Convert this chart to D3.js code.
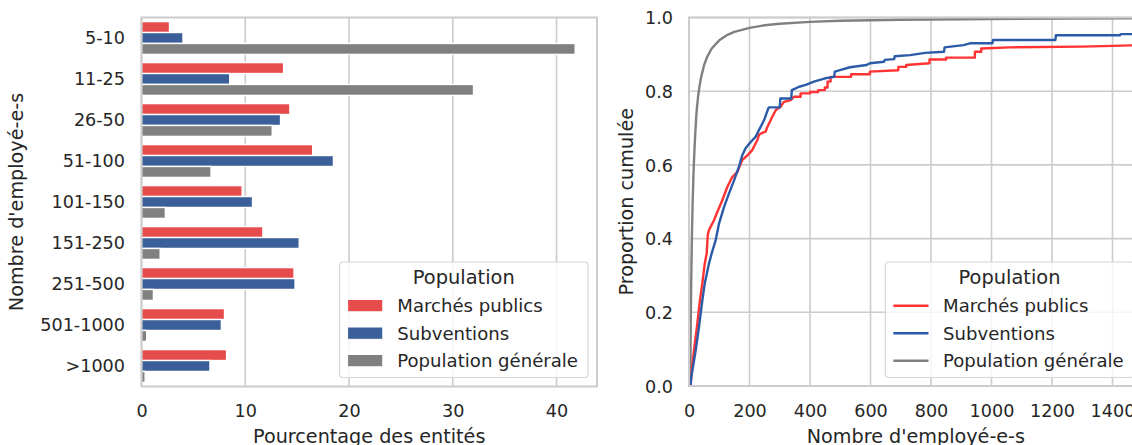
<!DOCTYPE html>
<html>
<head>
<meta charset="utf-8">
<script src="https://cdn.jsdelivr.net/npm/d3@7"></script>
<style>
  body { margin: 0; background: #fff; }
  text { font-family: "DejaVu Sans", sans-serif; fill: #262626; }
</style>
</head>
<body>
<svg id="fig" width="1132" height="445"></svg>
<script>
// ---- data ---------------------------------------------------------------
const categories = ["5-10", "11-25", "26-50", "51-100", "101-150", "151-250", "251-500", "501-1000", ">1000"];
const populations = ["Marchés publics", "Subventions", "Population générale"];

// share of entities (%) in each size class
const pctMarches     = [2.7, 13.7, 14.3, 16.5, 9.7, 11.7, 14.7, 8.0, 8.2];
const pctSubventions = [4.0, 8.5, 13.4, 18.5, 10.7, 15.2, 14.8, 7.7, 6.6];
const pctGenerale    = [41.8, 32.0, 12.6, 6.7, 2.3, 1.8, 1.15, 0.5, 0.35];
const percentTicks = [0, 10, 20, 30, 40];

// cumulative proportion vs. number of employees: [employees, proportion]
const ecdfMarches = [
  [5,0],[10,0.05],[16.5,0.097],[27.5,0.169],[36,0.232],[44,0.278],[52,0.332],[58.5,0.36],
  [62,0.41],[66,0.423],[82.6,0.45],[93.6,0.472],[110,0.504],[126.6,0.54],[143,0.567],[160,0.581],
  [168.6,0.599],[176,0.613],[193,0.626],[209,0.64],[220,0.658],[226,0.667],[231,0.681],[237,0.685],
  [253,0.69],[259,0.703],[275,0.73],[287,0.749],[303,0.758],[314,0.771],[336,0.776],[347,0.785],
  [369,0.785],[369,0.794],[400,0.794],[400,0.798],[427,0.798],[427,0.803],[449,0.803],[449,0.81],
  [458,0.81],[458,0.826],[468,0.826],[468,0.839],[536,0.839],[536,0.846],[598,0.846],[598,0.853],
  [692,0.857],[692,0.866],[718,0.866],[718,0.871],[795,0.876],[795,0.886],[850,0.886],[850,0.891],
  [945,0.891],[945,0.907],[966,0.907],[966,0.916],[1060,0.919],[1300,0.921],[1500,0.925]
];
const ecdfSubventions = [
  [5,0],[7.6,0.024],[22,0.096],[33,0.16],[44,0.232],[52,0.278],[66,0.332],[75,0.36],[88,0.395],
  [99,0.44],[116,0.486],[132,0.522],[149,0.558],[165,0.595],[176,0.626],[187,0.645],[204,0.662],
  [220,0.676],[231,0.694],[248,0.721],[262,0.753],[264,0.756],[300,0.756],[302,0.78],[338,0.78],
  [340,0.803],[364,0.812],[386,0.817],[413,0.826],[450,0.835],[480,0.839],[482,0.853],[499,0.857],
  [532,0.865],[587,0.871],[598,0.876],[645,0.88],[647,0.885],[678,0.887],[680,0.895],[731,0.898],
  [780,0.904],[843,0.907],[845,0.919],[907,0.925],[929,0.93],[1003,0.93],[1005,0.939],[1211,0.939],
  [1213,0.952],[1425,0.952],[1427,0.955],[1500,0.955]
];
const ecdfGenerale = [
  [5,0],[5,0.1],[6,0.19],[7,0.26],[8,0.32],[9,0.375],[10,0.421],[12,0.5],[15,0.58],[18,0.64],
  [21,0.69],[25,0.744],[30,0.785],[35,0.815],[40,0.838],[50,0.871],[60,0.893],[75,0.916],
  [100,0.938],[125,0.952],[150,0.961],[200,0.972],[250,0.979],[300,0.983],[400,0.988],
  [500,0.991],[700,0.994],[1000,0.996],[1250,0.997],[1500,0.998]
];
const employeeTicks = [0, 200, 400, 600, 800, 1000, 1200, 1400];
const proportionTicks = [0, 0.2, 0.4, 0.6, 0.8, 1.0];

// ---- style ---------------------------------------------------------------
const lineColors = ["#ff3333", "#2b5ba8", "#808080"];
// bars use the same hues, slightly desaturated
const barColors = lineColors.map(c => { const h = d3.hsl(c); h.s *= 0.75; return h.formatHex(); });
const gridColor = "#cccccc";
const tickFont = 17.6, labelFont = 19.2, legendFont = 18.1, legendTitleFont = 19.4;

const svg = d3.select("#fig");
svg.append("rect").attr("width", 1132).attr("height", 445).attr("fill", "#fff");

// ---- left panel: grouped horizontal bars -------------------------------
const L = { x0: 141.5, x1: 597, y0: 17.5, y1: 386.5 };
const xPct = d3.scaleLinear().domain([0, 43.9]).range([L.x0, L.x1]);
const yCat = d3.scaleBand().domain(categories).range([L.y0, L.y1]).paddingInner(0.2).paddingOuter(0.1);
const yPop = d3.scaleBand().domain(populations).range([0, yCat.bandwidth()]);
const series = [pctMarches, pctSubventions, pctGenerale];

const gL = svg.append("g");
gL.append("g").selectAll("line").data(percentTicks).join("line")
  .attr("x1", d => xPct(d)).attr("x2", d => xPct(d))
  .attr("y1", L.y0).attr("y2", L.y1)
  .attr("stroke", gridColor).attr("stroke-width", 1.6);

populations.forEach((p, i) => {
  gL.append("g").selectAll("rect").data(categories).join("rect")
    .attr("x", xPct(0))
    .attr("y", c => yCat(c) + yPop(p))
    .attr("width", (c, j) => xPct(series[i][j]) - xPct(0))
    .attr("height", yPop.bandwidth())
    .attr("fill", barColors[i])
    .attr("stroke", "#fff").attr("stroke-width", 1.4);
});

gL.append("rect").attr("x", L.x0).attr("y", L.y0)
  .attr("width", L.x1 - L.x0).attr("height", L.y1 - L.y0)
  .attr("fill", "none").attr("stroke", gridColor).attr("stroke-width", 2);

const axL = gL.append("g").attr("transform", `translate(0,${L.y1})`)
  .call(d3.axisBottom(xPct).tickValues(percentTicks).tickSize(0).tickPadding(18.3).tickFormat(d3.format("d")));
const ayL = gL.append("g").attr("transform", `translate(${L.x0},0)`)
  .call(d3.axisLeft(yCat).tickSize(0).tickPadding(16.5));
[axL, ayL].forEach(a => {
  a.select(".domain").remove();
  a.selectAll("text").attr("font-size", tickFont).attr("fill", "#262626").style("font-family", "DejaVu Sans");
});
ayL.selectAll("text").attr("dy", "0.35em");

gL.append("text").attr("x", (L.x0 + L.x1) / 2).attr("y", 442.5)
  .attr("text-anchor", "middle").attr("font-size", labelFont).text("Pourcentage des entités");
gL.append("text").attr("transform", `translate(23,${(L.y0 + L.y1) / 2}) rotate(-90)`)
  .attr("text-anchor", "middle").attr("font-size", labelFont).text("Nombre d'employé-e-s");

// ---- right panel: cumulative distributions ------------------------------
const R = { x0: 689, y0: 17.5, y1: 386 };
const xEmp = d3.scaleLinear().domain([0, 1500]).range([R.x0, R.x0 + 1500 * 0.3025]);
R.x1 = xEmp(1500);
const yProp = d3.scaleLinear().domain([0, 1]).range([R.y1, R.y0]);

const gR = svg.append("g");
gR.append("defs").append("clipPath").attr("id", "clipR")
  .append("rect").attr("x", R.x0).attr("y", R.y0).attr("width", R.x1 - R.x0).attr("height", R.y1 - R.y0);

gR.append("g").selectAll("line").data(employeeTicks).join("line")
  .attr("x1", d => xEmp(d)).attr("x2", d => xEmp(d)).attr("y1", R.y0).attr("y2", R.y1)
  .attr("stroke", gridColor).attr("stroke-width", 1.6);
gR.append("g").selectAll("line").data(proportionTicks).join("line")
  .attr("y1", d => yProp(d)).attr("y2", d => yProp(d)).attr("x1", R.x0).attr("x2", R.x1)
  .attr("stroke", gridColor).attr("stroke-width", 1.6);

const line = d3.line().x(d => xEmp(d[0])).y(d => yProp(d[1]));
const curves = [ecdfMarches, ecdfSubventions, ecdfGenerale];
const linesG = gR.append("g").attr("clip-path", "url(#clipR)");
[2, 0, 1].forEach(i => {
  linesG.append("path").attr("d", line(curves[i]))
    .attr("fill", "none").attr("stroke", lineColors[i]).attr("stroke-width", 2.4)
    .attr("stroke-linejoin", "round");
});

gR.append("rect").attr("x", R.x0).attr("y", R.y0)
  .attr("width", R.x1 - R.x0).attr("height", R.y1 - R.y0)
  .attr("fill", "none").attr("stroke", gridColor).attr("stroke-width", 2);

const axR = gR.append("g").attr("transform", `translate(0,${R.y1})`)
  .call(d3.axisBottom(xEmp).tickValues(employeeTicks).tickSize(0).tickPadding(18.8).tickFormat(d3.format("d")));
const ayR = gR.append("g").attr("transform", `translate(${R.x0},0)`)
  .call(d3.axisLeft(yProp).tickValues(proportionTicks).tickSize(0).tickPadding(16).tickFormat(d3.format(".1f")));
[axR, ayR].forEach(a => {
  a.select(".domain").remove();
  a.selectAll("text").attr("font-size", tickFont).attr("fill", "#262626").style("font-family", "DejaVu Sans");
});
ayR.selectAll("text").attr("dy", "0.35em");

gR.append("text").attr("x", (R.x0 + R.x1) / 2).attr("y", 442.5)
  .attr("text-anchor", "middle").attr("font-size", labelFont).text("Nombre d'employé-e-s");
gR.append("text").attr("transform", `translate(633,${(R.y0 + R.y1) / 2}) rotate(-90)`)
  .attr("text-anchor", "middle").attr("font-size", labelFont).text("Proportion cumulée");

// ---- legends --------------------------------------------------------------
function legend(g, right, kind, colors) {
  const top = 262, handleW = 35.2, padL = 8, gapT = 14.5, padR = 10, rowH = 27.5;
  const lg = g.append("g");
  const frame = lg.append("rect");
  const title = lg.append("text").attr("font-size", legendTitleFont).attr("text-anchor", "middle").text("Population");
  const labels = populations.map((p, i) => lg.append("text").attr("font-size", legendFont).text(p));
  const textW = d3.max(labels, t => t.node().getComputedTextLength());
  const width = padL + handleW + gapT + textW + padR;
  const left = right - width;
  frame.attr("x", left).attr("y", top).attr("width", width).attr("height", 115.5)
    .attr("rx", 3.5).attr("fill", "#fff").attr("fill-opacity", 0.8)
    .attr("stroke", "#d6d6d6").attr("stroke-width", 1.2);
  title.attr("x", left + width / 2).attr("y", top + 15.7).attr("dy", "0.35em");
  populations.forEach((p, i) => {
    const cy = top + 43.7 + i * rowH;
    if (kind === "patch") {
      lg.append("rect").attr("x", left + padL).attr("y", cy - 6.2).attr("width", handleW).attr("height", 12.3)
        .attr("fill", colors[i]).attr("stroke", "#fff").attr("stroke-width", 1);
    } else {
      lg.append("line").attr("x1", left + padL).attr("x2", left + padL + handleW).attr("y1", cy).attr("y2", cy)
        .attr("stroke", colors[i]).attr("stroke-width", 2.4);
    }
    labels[i].attr("x", left + padL + handleW + gapT).attr("y", cy).attr("dy", "0.35em");
  });
}
legend(gL, L.x1 - 9, "patch", barColors);
legend(gR, R.x1 - 9, "line", lineColors);
</script>
</body>
</html>
